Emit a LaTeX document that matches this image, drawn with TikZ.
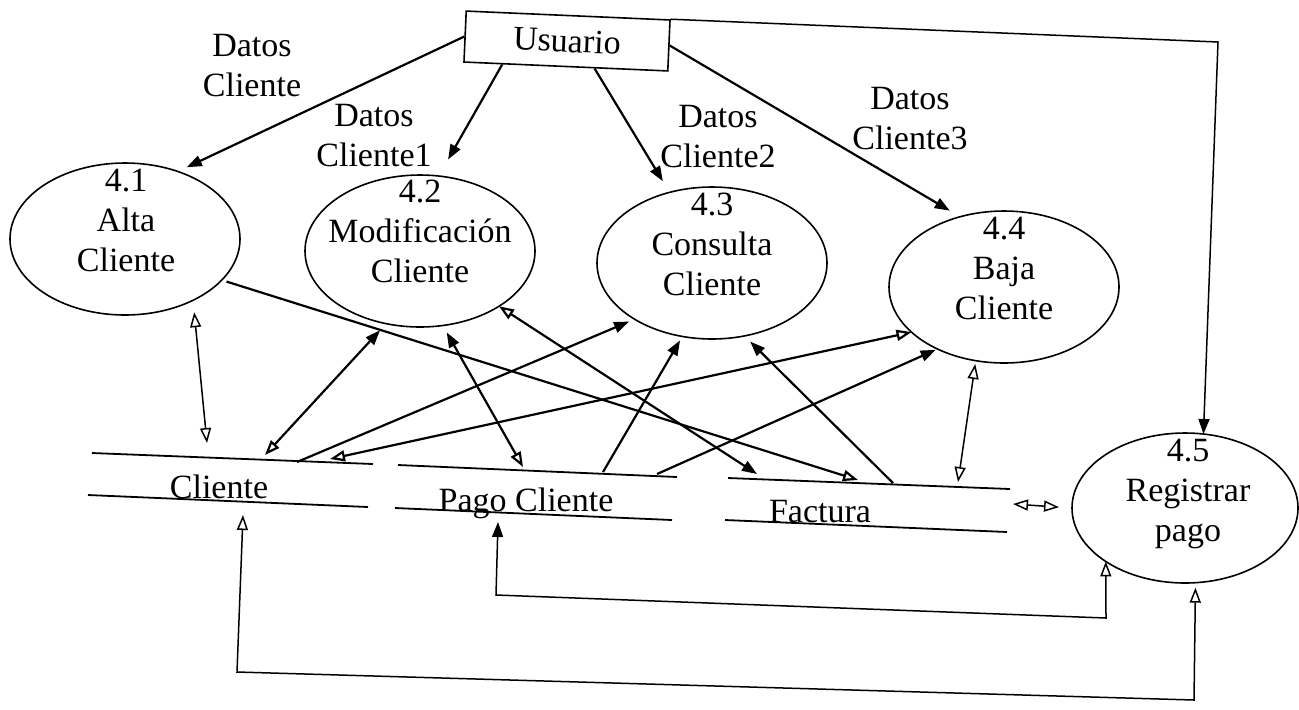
\documentclass[tikz,border=0pt]{standalone}
\usepackage{fontspec}
\setmainfont{Liberation Serif}
\usetikzlibrary{arrows.meta,shapes.geometric,calc}
\begin{document}
\begin{tikzpicture}[x=0.5pt,y=-0.5pt,
  fh/.tip={Triangle[length=7.5pt,width=5.5pt]},
  oh/.tip={Triangle[length=7.5pt,width=5.5pt,fill=white]},
  proc/.style={ellipse,draw,line width=0.8pt,minimum width=115pt,minimum height=76pt,inner sep=0pt,outer sep=0pt},
  txt/.style={font=\fontsize{17pt}{20pt}\selectfont,align=center,inner sep=0pt},
  entity/.style={draw,line width=0.8pt,minimum width=102pt,minimum height=25.5pt,inner sep=0pt,rotate=-2.5,font=\fontsize{17pt}{20pt}\selectfont},
  flow/.style={line width=1.1pt},
  thinflow/.style={line width=0.75pt},
  store/.style={line width=0.9pt}]
\useasboundingbox (0,0) rectangle (1299,709);

% external entity
\node[entity] (usr) at (567,41) {Usuario};

% processes
\node[proc] (p41) at (125,239) {};
\node[proc] (p42) at (420,251) {};
\node[proc] (p43) at (712,263) {};
\node[proc] (p44) at (1004,287) {};
\node[proc,minimum width=113pt,minimum height=75pt] (p45) at (1185,508) {};
\node[txt] (t41) at (126,220.5) {4.1\\Alta\\Cliente};
\node[txt] (t42) at (420,231.5) {4.2\\Modificación\\Cliente};
\node[txt] (t43) at (712,244) {4.3\\Consulta\\Cliente};
\node[txt] (t44) at (1004,268.5) {4.4\\Baja\\Cliente};
\node[txt] (t45) at (1188,494) {4.5\\Registrar\\pago};

% flow labels
\node[txt] (d41) at (252,65.5) {Datos\\Cliente};
\node[txt] (d42) at (374,135.5) {Datos\\Cliente1};
\node[txt] (d43) at (718,136.5) {Datos\\Cliente2};
\node[txt] (d44) at (910,118.5) {Datos\\Cliente3};

% data stores
\draw[store] (92,453) -- (373,464);
\draw[store] (88,495) -- (368,507);
\draw[store] (398,465) -- (677,477);
\draw[store] (395,508) -- (672,520);
\draw[store] (728,478) -- (1010,489);
\draw[store] (725,520) -- (1007,532);
\node[txt,anchor=base] (sc) at (219,498) {Cliente};
\node[txt,anchor=base] (sp) at (526,511) {Pago Cliente};
\node[txt,anchor=base] (sf) at (820,522) {Factura};

% attachment points on the stores
\coordinate (cA) at (207,443);
\coordinate (cB) at (265,455);
\coordinate (cC) at (297,462);
\coordinate (cD) at (330,459);
\coordinate (cE) at (243,515);
\coordinate (pA) at (523,467);
\coordinate (pB) at (603,472);
\coordinate (pC) at (657,474);
\coordinate (pD) at (498,522);
\coordinate (fA) at (757,474);
\coordinate (fB) at (858,480);
\coordinate (fC) at (893,483);
\coordinate (fD) at (958,482);
\coordinate (fE) at (1013,504);
\coordinate (k1) at (1218,42);

% flows from the user
\draw[flow,-fh,shorten >=5pt] (usr.west) -- (p41.52.6);
\draw[flow,-fh,shorten >=9.5pt] ($(usr.south west)!0.19!(usr.south east)$) -- (p42.76.8);
\draw[flow,-fh,shorten >=6.5pt] ($(usr.south west)!0.64!(usr.south east)$) -- (p43.121.7);
\draw[flow,-fh,shorten >=6pt] (usr.east) -- (p44.122.8);
\draw[thinflow,-fh] (usr.north east) -- (k1) -- (p45.76.5);

% flows between processes and stores
\draw[thinflow,oh-oh,shorten <=6pt] (p41.318.1) -- (cA);
\draw[flow,-oh,shorten <=2.5pt] (p41.337.1) -- (fB);
\draw[flow,fh-oh,shorten <=4.5pt] (p42.245.5) -- (cB);
\draw[flow,fh-oh,shorten <=4pt] (p42.287) -- (pA);
\draw[flow,oh-fh] (p42.325) -- (fA);
\draw[flow,-fh,shorten >=3pt] (cC) -- (p43.216.9);
\draw[flow,oh-oh] (cD) -- (p44.206.6);
\draw[flow,-fh,shorten >=2.3pt] (pB) -- (p43.248.7);
\draw[flow,-fh,shorten >=1pt] (pC) -- (p44.223.2);
\draw[flow,-fh,shorten >=4pt] (fC) -- (p43.294.5);
\draw[thinflow,oh-oh,shorten <=1.7pt] (p44.249.1) -- (fD);
\draw[thinflow,oh-oh,shorten >=6.5pt] (fE) -- (p45.west);
\draw[thinflow,fh-oh] (pD) -- (496,595) -- (1106,618) -- (p45.214);
\draw[thinflow,oh-oh,shorten >=2.5pt] (cE) -- (237,672) -- (1194,700) -- (p45.278.5);
\end{tikzpicture}
\end{document}
